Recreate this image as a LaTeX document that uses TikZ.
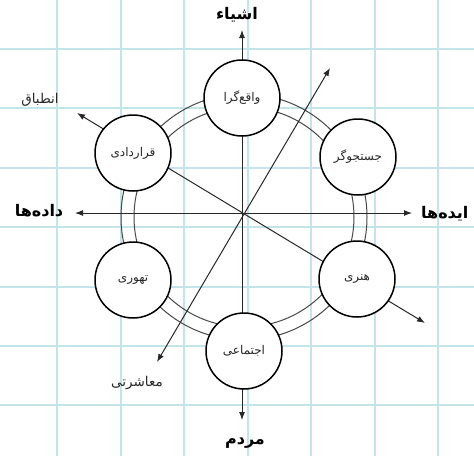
\documentclass[tikz,border=0pt]{standalone}
\usepackage{fontspec}
\newfontfamily\arabicfont[Script=Arabic]{DejaVu Sans}
\TeXXeTstate=1
\usetikzlibrary{arrows.meta}
\definecolor{gridblue}{RGB}{196,228,236}
\definecolor{inkgray}{RGB}{40,40,40}
\begin{document}
\begin{tikzpicture}[x=1pt,y=-1pt,
  gridline/.style={draw=gridblue,line width=2pt},
  ringline/.style={draw=inkgray!85,line width=1pt},
  axisline/.style={draw=inkgray,line width=1pt,{Latex[length=8pt,width=6pt]}-{Latex[length=8pt,width=6pt]}},
  typecircle/.style={circle,draw=black,line width=1.5pt,fill=white,minimum size=76pt,inner sep=0pt,text=inkgray,font=\arabicfont\fontsize{12}{13}\selectfont},
  axislabel/.style={font=\arabicfont\bfseries\fontsize{16}{18}\selectfont,inner sep=0pt},
  diaglabel/.style={font=\arabicfont\fontsize{13.5}{15}\selectfont,text=inkgray,inner sep=0pt}]
\useasboundingbox (0,0) rectangle (474,456);
\clip (0,0) rectangle (474,456);
\fill[white] (0,0) rectangle (474,456);
% grid
\foreach \gx in {57,120.5,184,247.5,311,374.5,438} \draw[gridline] (\gx,0) -- (\gx,456);
\foreach \gy in {49,108.4,167.8,227.2,286.6,346,405.4} \draw[gridline] (0,\gy) -- (474,\gy);
% ring
\coordinate (ringc) at (244,217);
\draw[ringline] (ringc) circle [radius=110];
\draw[ringline] (ringc) circle [radius=123];
% axes end points
\coordinate (topEnd) at (242,30);
\coordinate (botEnd) at (242,420);
\coordinate (leftEnd) at (75,213);
\coordinate (rightEnd) at (412,213);
\coordinate (ulEnd) at (77,113);
\coordinate (lrEnd) at (425,323);
\coordinate (urEnd) at (330,68);
\coordinate (llEnd) at (157,362);
\draw[axisline] (botEnd) -- (topEnd);
\draw[axisline] (leftEnd) -- (rightEnd);
\draw[axisline] (ulEnd) -- (lrEnd);
\draw[axisline] (llEnd) -- (urEnd);
% circles
\node[typecircle] (real) at (242,98) {\beginR واقع^^^^200cگرا\endR};
\node[typecircle] (inv) at (358,157) {\beginR جستجوگر\endR};
\node[typecircle] (art) at (357,279) {\beginR هنری\endR};
\node[typecircle] (soc) at (244,351) {\beginR اجتماعی\endR};
\node[typecircle] (ent) at (133,280) {\beginR تهوری\endR};
\node[typecircle] (conv) at (133,153) {\beginR قراردادی\endR};
% labels
\node[axislabel] (lthings) at (237,15) {\beginR اشیاء\endR};
\node[axislabel] (lpeople) at (245,443) {\beginR مردم\endR};
\node[axislabel] (ldata) at (39,211) {\beginR داده^^^^200cها\endR};
\node[axislabel,anchor=west] (lideas) at (421,214) {\beginR ایده^^^^200cها\endR};
\node[diaglabel] (lconf) at (40,100) {\beginR انطباق\endR};
\node[diaglabel] (lsoc) at (137,383) {\beginR معاشرتی\endR};
\end{tikzpicture}
\end{document}
